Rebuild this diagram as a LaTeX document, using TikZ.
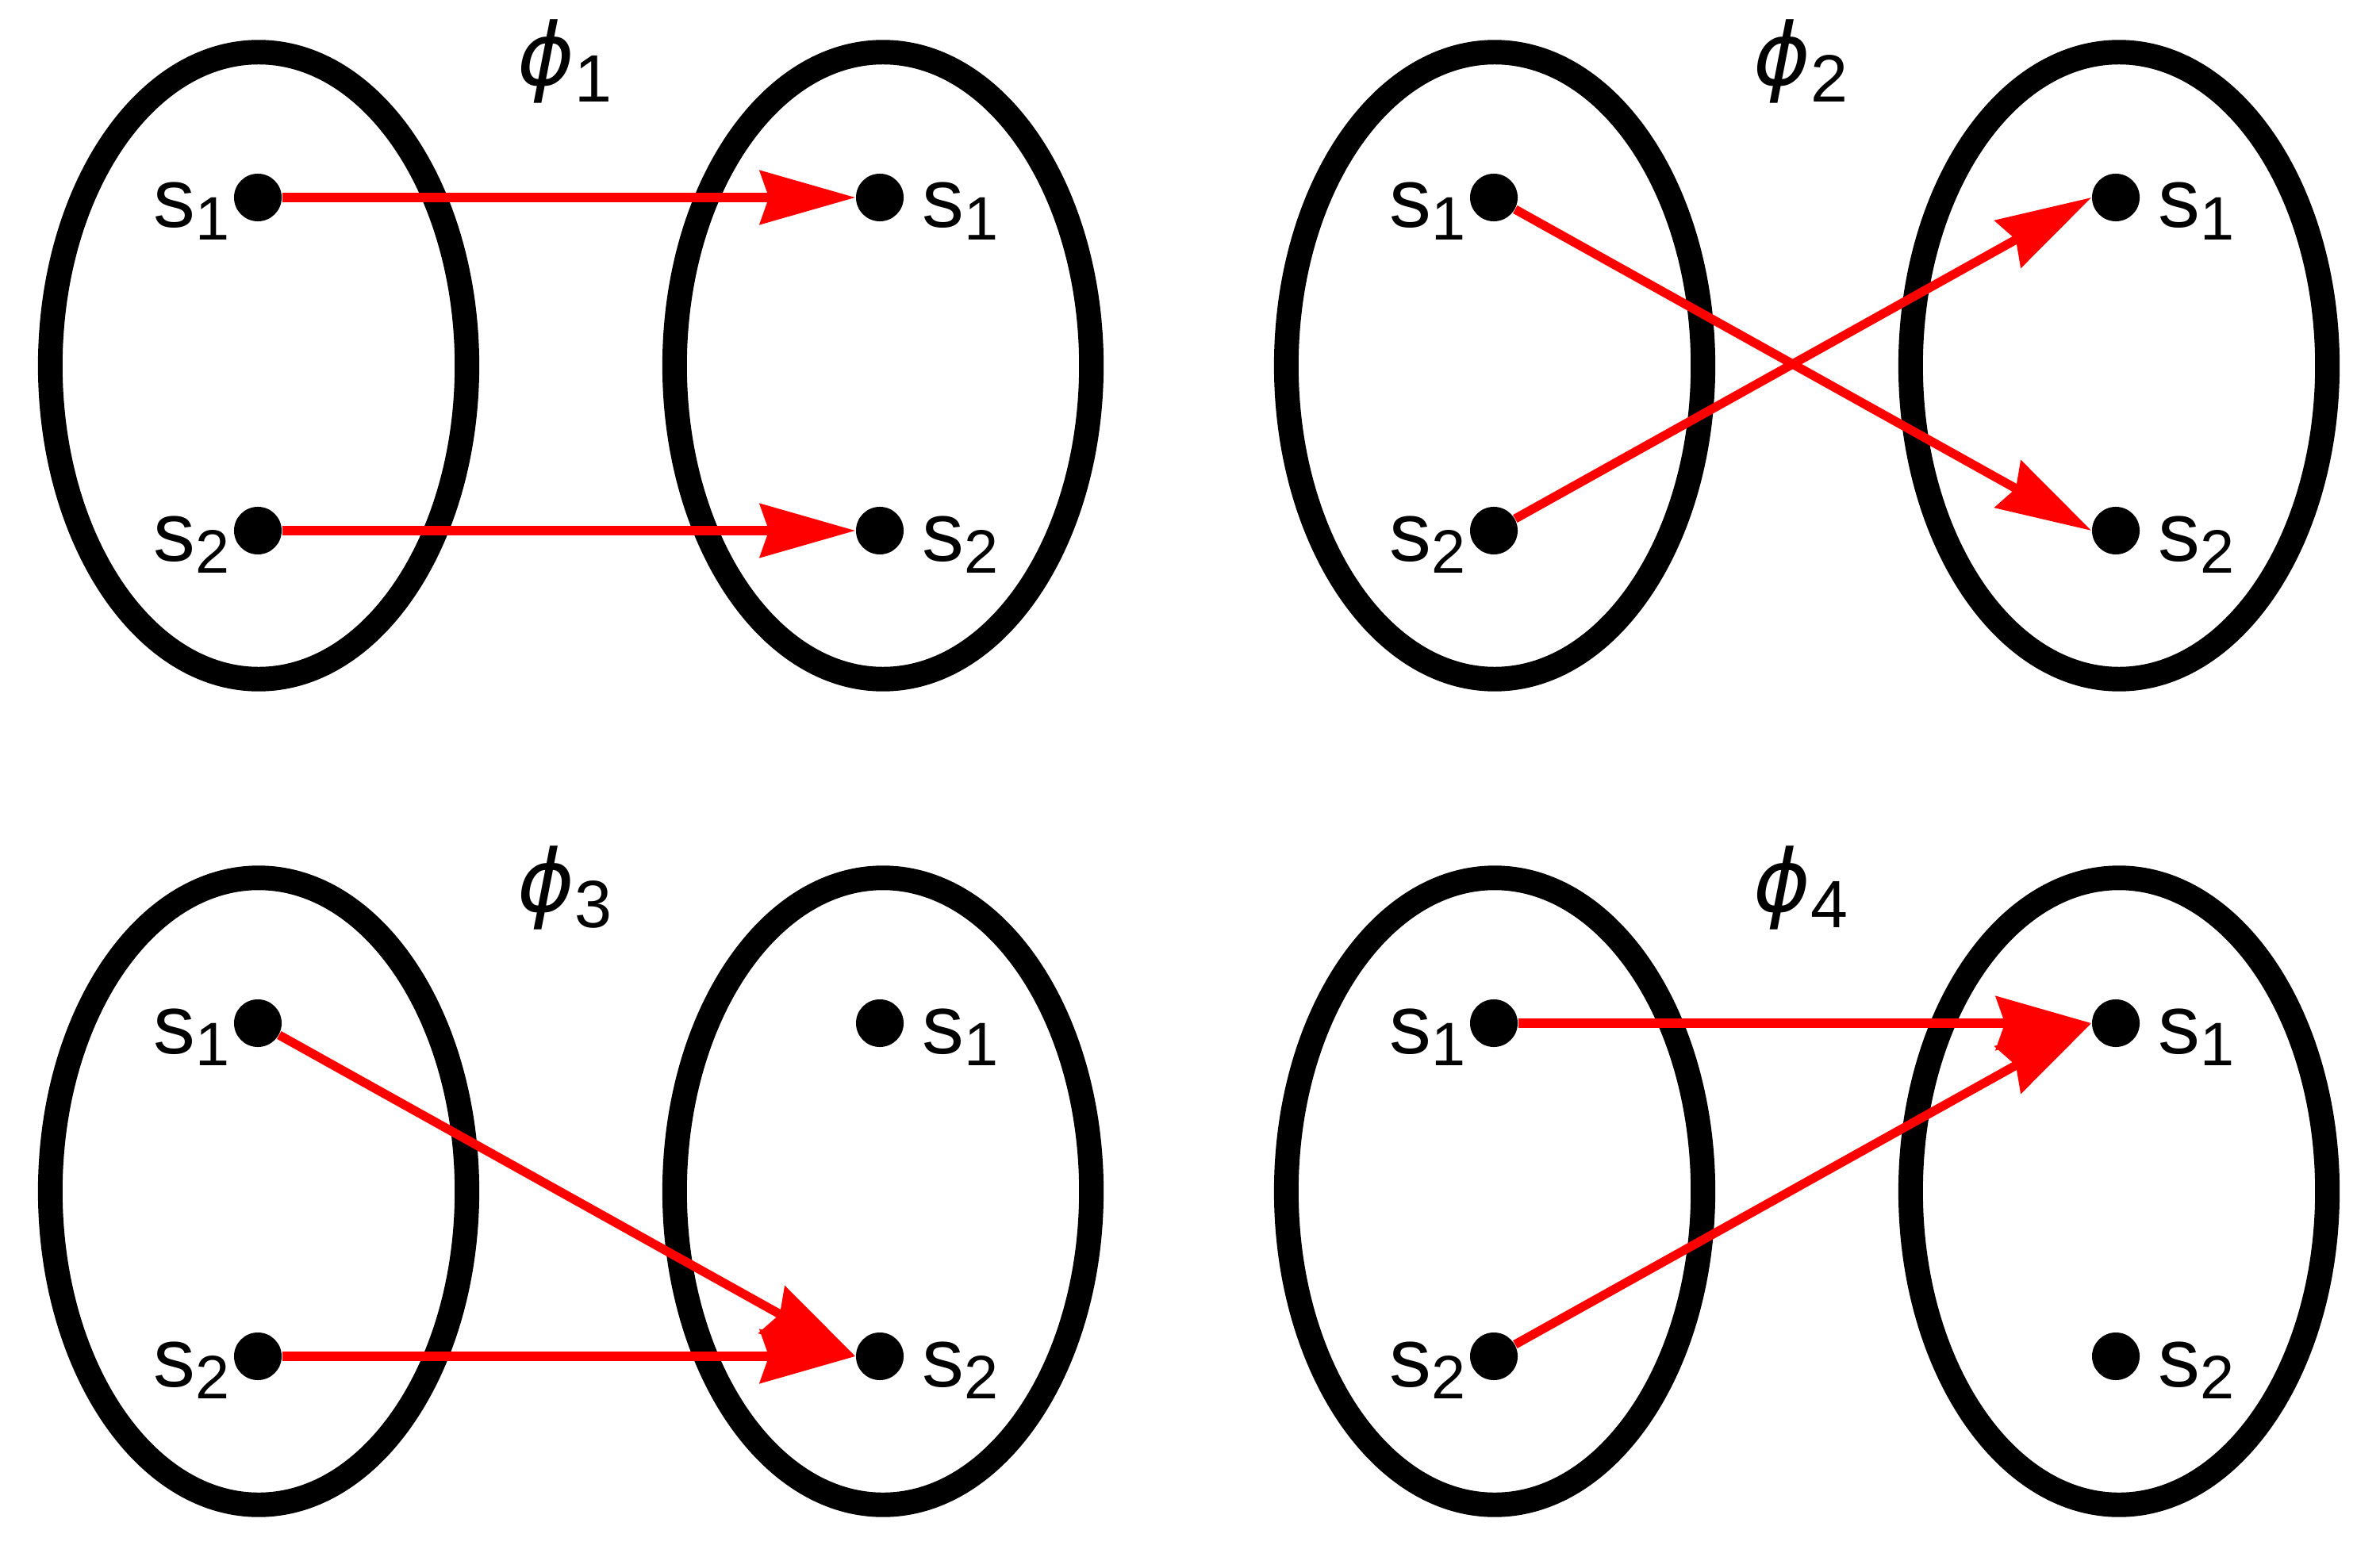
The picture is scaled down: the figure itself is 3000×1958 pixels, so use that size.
\documentclass[tikz,border=0pt]{standalone}
\usepackage{fontspec}
\setmainfont{Liberation Sans}
\newfontfamily\phifont{DejaVu Sans}
\usetikzlibrary{arrows.meta}
\newcommand\subfont{\fontsize{22pt}{24pt}\selectfont}
\newcommand\mappanel[4]{%
  \begin{scope}[shift={(#2,#3)}]
    \draw[setring] (326,461) ellipse [x radius=2.625cm, y radius=3.95cm];
    \draw[setring] (1113,461) ellipse [x radius=2.625cm, y radius=3.95cm];
    \node[elem] (#1L1) at (325,249) {};
    \node[elem] (#1L2) at (325,669) {};
    \node[elem] (#1R1) at (1109,249) {};
    \node[elem] (#1R2) at (1109,669) {};
    \node[lab] (#1tL1) at (193,287) {s\raisebox{-4.5pt}{\subfont 1}};
    \node[lab] (#1tL2) at (193,707) {s\raisebox{-4.5pt}{\subfont 2}};
    \node[lab] (#1tR1) at (1162,287) {s\raisebox{-4.5pt}{\subfont 1}};
    \node[lab] (#1tR2) at (1162,707) {s\raisebox{-4.5pt}{\subfont 2}};
    \node[maplabel] (#1phi) at (652,108) {{\phifont\itshape ϕ}\raisebox{-5.7pt}{\fontsize{24pt}{26pt}\selectfont #4}};
  \end{scope}}
\begin{document}
\begin{tikzpicture}[x=0.01cm,y=-0.01cm,
  setring/.style={draw=black,line width=8.8pt},
  elem/.style={circle,fill=black,inner sep=0pt,minimum size=0.6cm},
  lab/.style={anchor=base west,inner sep=0pt,font=\fontsize{30pt}{33pt}\selectfont},
  maplabel/.style={anchor=base west,inner sep=0pt,font=\fontsize{31pt}{34pt}\selectfont},
  maparrow/.style={draw=red,line width=3.2pt,-{Stealth[length=1.2cm,width=0.67cm,inset=0.11cm]}}]
  \useasboundingbox (0,0) rectangle (3000,1958);
  \mappanel{A}{0}{0}{1}
  \mappanel{B}{1558}{0}{2}
  \mappanel{C}{0}{1041}{3}
  \mappanel{D}{1558}{1041}{4}
  \draw[maparrow] (AL1) -- (AR1.west);
  \draw[maparrow] (AL2) -- (AR2.west);
  \draw[maparrow] (BL1) -- (BR2.west);
  \draw[maparrow] (BL2) -- (BR1.west);
  \draw[maparrow] (CL1) -- (CR2.west);
  \draw[maparrow] (CL2) -- (CR2.west);
  \draw[maparrow] (DL1) -- (DR1.west);
  \draw[maparrow] (DL2) -- (DR1.west);
\end{tikzpicture}
\end{document}
